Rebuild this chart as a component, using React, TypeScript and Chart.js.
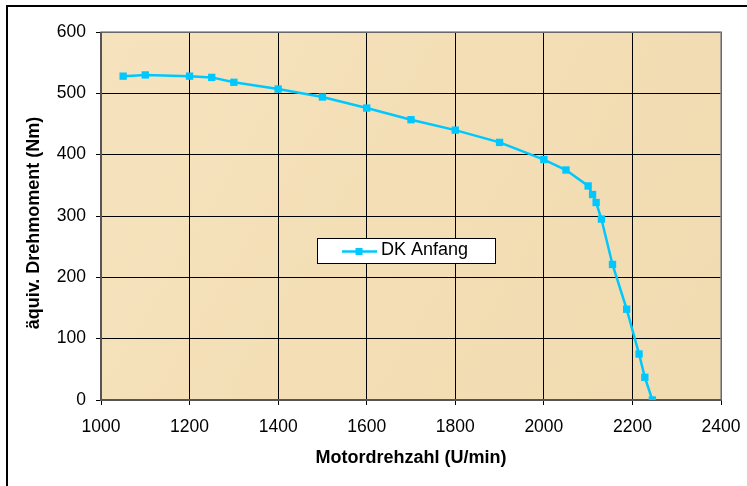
import React, { useEffect, useRef } from "react";
import { Chart, registerables } from "chart.js";

Chart.register(...registerables);

// Data
const speeds = [1050, 1100, 1200, 1250, 1300, 1400, 1500, 1600, 1700, 1800, 1900, 2000, 2050, 2100, 2110, 2118, 2130, 2155, 2187, 2215, 2228, 2245];
const torques = [528, 530, 528, 526, 518, 507, 494, 476, 457, 440, 420, 392, 375, 349, 335, 322, 295, 221, 148, 75, 37, 0];
const seriesLabel = "DK Anfang";
const xTitle = "Motordrehzahl (U/min)";
const yTitle = "äquiv. Drehmoment (Nm)";
const xRange = [1000, 2400];
const xStep = 200;
const yRange = [0, 600];
const yStep = 100;

const FONT = "'Liberation Sans', Arial, sans-serif";
const LINE_COLOR = "#00C8FF";

const decorPlugin = {
  id: "decor",
  beforeDraw(chart: any) {
    const { ctx, chartArea: a } = chart;
    ctx.save();
    ctx.fillStyle = "#ffffff";
    ctx.fillRect(0, 0, chart.width, chart.height);
    const g = ctx.createLinearGradient(a.left, a.top, a.right, a.bottom);
    g.addColorStop(0, "#F6E3BE");
    g.addColorStop(0.5, "#F3DEB5");
    g.addColorStop(1, "#F1DBB1");
    ctx.fillStyle = g;
    ctx.fillRect(a.left, a.top, a.right - a.left, a.bottom - a.top);
    ctx.restore();
  },
  beforeDatasetsDraw(chart: any) {
    const { ctx, chartArea: a } = chart;
    ctx.save();
    ctx.strokeStyle = "#8c8c8c";
    ctx.lineWidth = 1.5;
    ctx.strokeRect(a.left, a.top, a.right - a.left, a.bottom - a.top);
    ctx.strokeStyle = "#555555";
    ctx.lineWidth = 2;
    ctx.beginPath();
    ctx.moveTo(a.left, a.top);
    ctx.lineTo(a.left, a.bottom);
    ctx.lineTo(a.right, a.bottom);
    ctx.stroke();
    ctx.restore();
  },
  afterDraw(chart: any) {
    const { ctx, chartArea: a } = chart;
    ctx.save();
    // outer chart border
    ctx.strokeStyle = "#000000";
    ctx.lineWidth = 2;
    ctx.strokeRect(7, 6, chart.width + 10, chart.height + 10);

    // axis titles
    ctx.fillStyle = "#000000";
    ctx.font = `bold 18px ${FONT}`;
    ctx.textAlign = "center";
    ctx.textBaseline = "middle";
    ctx.fillText(xTitle, (a.left + a.right) / 2, 458);
    ctx.save();
    ctx.translate(34, (a.top + a.bottom) / 2 + 7);
    ctx.rotate(-Math.PI / 2);
    ctx.fillText(yTitle, 0, 0);
    ctx.restore();

    // legend
    const bx = 317, by = 238, bw = 178, bh = 25;
    ctx.fillStyle = "#ffffff";
    ctx.fillRect(bx, by, bw, bh);
    ctx.strokeStyle = "#000000";
    ctx.lineWidth = 1;
    ctx.strokeRect(bx + 0.5, by + 0.5, bw, bh);
    const ly = by + bh / 2 + 1;
    ctx.strokeStyle = LINE_COLOR;
    ctx.lineWidth = 2.5;
    ctx.beginPath();
    ctx.moveTo(342, ly);
    ctx.lineTo(377, ly);
    ctx.stroke();
    ctx.fillStyle = LINE_COLOR;
    ctx.fillRect(359 - 3.5, ly - 3.5, 7, 7);
    ctx.fillStyle = "#000000";
    ctx.font = `18px ${FONT}`;
    ctx.textAlign = "left";
    ctx.fillText(chart.data.datasets[0].label, 381, by + bh / 2);
    ctx.restore();
  },
};

export default function App() {
  const ref = useRef<HTMLCanvasElement | null>(null);
  useEffect(() => {
    if (!ref.current) return;
    const chart = new Chart(ref.current, {
      type: "line",
      data: {
        datasets: [
          {
            label: seriesLabel,
            data: speeds.map((s, i) => ({ x: s, y: torques[i] })),
            borderColor: LINE_COLOR,
            backgroundColor: LINE_COLOR,
            borderWidth: 2.5,
            pointStyle: "rect",
            pointRadius: 5.2,
            pointHoverRadius: 5.2,
            pointBorderWidth: 0,
            tension: 0,
            fill: false,
          },
        ],
      },
      options: {
        animation: false,
        responsive: false,
        events: [],
        layout: { padding: { left: 0, top: 32, right: 26, bottom: 0 } },
        plugins: {
          legend: { display: false },
          tooltip: { enabled: false },
        },
        scales: {
          x: {
            type: "linear",
            min: xRange[0],
            max: xRange[1],
            afterFit: (s: any) => {
              s.height = 86;
              s.paddingLeft = 0;
              s.paddingRight = 0;
            },
            ticks: {
              stepSize: xStep,
              color: "#000000",
              font: { family: FONT, size: 17.5 },
              padding: 12,
              maxRotation: 0,
              callback: (v: any) => String(v),
            },
            grid: {
              color: "#000000",
              lineWidth: 1,
              tickLength: 5,
              tickColor: "#000000",
            },
            border: { display: false },
          },
          y: {
            type: "linear",
            min: yRange[0],
            max: yRange[1],
            afterFit: (s: any) => {
              s.width = 101;
              s.paddingTop = 0;
              s.paddingBottom = 0;
            },
            ticks: {
              stepSize: yStep,
              color: "#000000",
              font: { family: FONT, size: 17.5 },
              padding: 10,
              callback: (v: any) => String(v),
            },
            grid: {
              color: "#000000",
              lineWidth: 1,
              tickLength: 5,
              tickColor: "#000000",
            },
            border: { display: false },
          },
        },
      },
      plugins: [decorPlugin],
    } as any);
    return () => chart.destroy();
  }, []);
  return (
    <div style={{ position: "fixed", left: 0, top: 0, width: 747, height: 486 }}>
      <canvas ref={ref} width={747} height={486} style={{ display: "block" }} />
    </div>
  );
}
